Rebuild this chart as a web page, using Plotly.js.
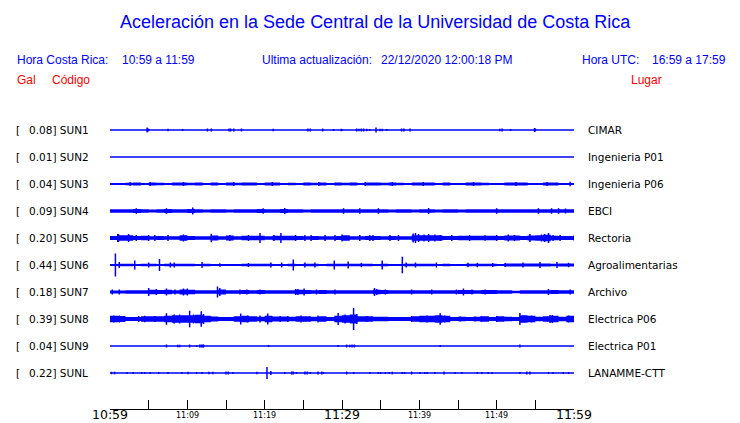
<!DOCTYPE html>
<html><head><meta charset="utf-8">
<script src="https://cdn.plot.ly/plotly-3.0.1.min.js"></script>
<style>html,body{margin:0;padding:0;background:#fff}#c{width:740px;height:423px}</style>
</head><body><div id="c"></div>
<script>
// ---------------- DATA ----------------
const codes = ["SUN1","SUN2","SUN3","SUN4","SUN5","SUN6","SUN7","SUN8","SUN9","SUNL"];
const peaks = ["0.08","0.01","0.04","0.09","0.20","0.44","0.18","0.39","0.04","0.22"];
const places = ["CIMAR","Ingenieria P01","Ingenieria P06","EBCI","Rectoria","Agroalimentarias","Archivo","Electrica P06","Electrica P01","LANAMME-CTT"];
const tickMinutes = [0,5,10,15,20,25,30,35,40,45,50,55,60];
const tickLabels = ["10:59","","11:09","","11:19","","11:29","","11:39","","11:49","","11:59"];
const bigTicks = ["10:59","11:29","11:59"];

// per-minute envelope half-widths (minutes 0..60) for the noisy stations
const envSUN3 = [1.0,1.0,1.3,1.4,1.1,1.4,1.2,1.0,1.4,1.4,1.3,1.4,1.0,1.4,1.0,1.4,1.3,1.4,1.4,1.1,1.4,1.4,1.1,1.3,1.1,1.4,1.2,1.4,1.1,1.4,1.3,1.4,1.1,1.4,1.4,1.2,1.4,1.3,1.0,1.4,1.4,1.4,1.1,1.4,1.0,1.0,1.4,1.4,1.3,1.1,1.1,1.4,1.4,1.4,1.1,1.1,1.4,1.4,1.1,1.1,1.4];
const envSUN4 = [1.8,1.8,1.8,2.0,1.8,1.6,1.8,2.0,1.8,1.8,2.0,1.8,1.6,1.8,1.8,1.6,1.8,1.8,1.8,2.0,1.8,1.8,2.0,1.8,1.8,1.6,1.8,1.8,1.8,1.8,1.8,1.8,1.8,1.8,1.8,1.8,1.6,1.8,1.8,1.6,1.8,1.8,1.6,1.8,1.8,1.6,1.8,1.8,1.8,1.8,1.8,1.8,1.8,1.8,1.8,1.8,1.8,1.8,1.8,1.8,1.8];
const envSUN5 = [2.0,2.8,2.8,2.0,2.3,1.8,2.0,1.8,1.8,2.8,2.0,1.8,1.8,2.6,1.8,2.6,1.8,2.3,2.3,2.3,1.8,2.3,2.3,2.3,2.0,1.8,2.0,1.8,1.8,2.0,2.8,1.8,1.8,2.0,2.0,1.8,2.0,1.8,1.8,2.8,2.8,2.8,2.8,2.0,2.0,2.3,2.3,2.3,2.3,2.3,2.0,2.6,2.6,2.0,2.6,2.8,3.2,2.3,2.0,2.0,2.3];
const envSUN6 = [1.0,1.3,1.3,0.9,1.3,1.3,1.0,1.3,1.3,1.3,1.3,1.0,1.3,1.0,0.9,1.0,1.0,1.3,1.3,1.3,1.2,1.0,1.0,1.3,1.0,1.3,1.3,1.0,1.3,1.3,1.3,1.3,1.3,1.3,1.0,1.3,1.0,1.0,1.3,1.3,1.3,1.3,1.0,1.3,1.0,1.0,1.3,1.3,1.3,1.3,1.0,1.6,1.6,1.6,1.6,1.6,1.6,1.3,1.6,1.6,1.6];
const envSUN7 = [1.5,1.5,1.8,1.8,1.8,2.2,2.0,2.2,1.8,2.5,2.2,1.8,1.8,1.8,2.5,1.8,1.8,2.0,1.8,2.0,1.8,1.8,1.8,1.8,2.2,2.0,1.8,2.0,1.8,1.8,1.8,1.8,1.8,1.8,2.2,2.0,1.8,1.8,1.8,1.8,1.8,1.8,1.8,1.8,1.8,2.0,2.0,1.8,2.0,2.0,1.8,1.8,1.3,1.8,1.8,1.8,1.8,2.0,1.8,1.8,1.8];
const envSUN8 = [3.3,3.0,2.0,2.0,2.8,2.8,2.8,3.3,3.8,3.8,3.8,4.2,3.3,2.6,2.0,2.0,2.8,3.3,2.8,2.3,3.3,2.6,2.6,2.3,2.8,2.8,2.3,2.8,2.0,3.3,3.8,4.5,2.8,2.8,2.3,2.3,2.0,2.0,2.0,2.8,3.3,3.3,3.8,3.3,2.0,2.3,2.0,2.3,2.8,2.0,2.8,2.3,2.0,3.8,3.3,2.3,2.8,3.3,2.3,3.3,3.3];

// spikes: [minute, half amplitude]
const spkSUN1 = [[4.8,2.4],[4.9,1.5],[5.0,1.2],[7.5,1.3],[9.4,1.0],[12.6,1.5],[13.1,1.5],[15.4,1.5],[15.6,1.5],[16.0,1.5],[17.0,1.5],[21.1,1.3],[25.6,1.5],[25.9,1.5],[27.5,1.5],[28.9,1.0],[29.9,1.2],[30.0,1.0],[31.9,1.5],[32.2,1.3],[32.5,1.5],[32.8,1.5],[33.2,1.3],[33.6,1.0],[34.4,2.5],[34.9,1.3],[35.2,1.3],[35.8,1.0],[37.7,1.5],[38.0,1.5],[38.8,1.5],[50.4,1.2],[50.7,1.5],[51.8,1.0],[54.9,2.0],[55.0,1.5]];
const spkSUN2 = [];
const spkSUN3 = [[2.6,2.0],[5.2,2.0],[9.5,2.0],[16.0,2.0],[21.0,2.0],[27.0,2.0],[33.0,2.0],[36.5,2.0],[40.5,2.0],[47.0,2.0],[52.5,2.0],[56.5,2.0],[59.5,2.2]];
const spkSUN4 = [[3.4,2.8],[7.3,2.8],[10.7,3.5],[19.8,2.8],[22.6,3.0],[30.2,2.8],[32.3,2.8],[34.7,2.8],[41.2,3.0],[50.0,2.8],[55.4,2.8],[57.1,2.8],[58.0,2.8],[58.9,2.5]];
const spkSUN5 = [[1.0,4],[1.1,4],[2.4,4],[3.4,3],[5.0,3],[5.8,3],[7.5,3],[9.5,3.5],[13.1,4.2],[15.5,3],[17.9,3],[19.4,5],[21.2,3],[22.1,5],[24,3],[25.2,3],[26,3],[27.8,3],[29.1,3],[30,3.5],[32.3,3],[33.6,3],[34,3],[36.2,3],[37.3,3],[39.2,4.5],[39.5,5],[39.9,4],[40.6,3.5],[41.2,4],[42,3.5],[42.7,3],[44.2,3],[46.5,3],[48.5,2.8],[50,3],[51.5,3.5],[52.3,3],[54.3,4],[55.8,3.5],[56.2,4],[56.7,5],[57.3,3],[58.2,3],[60,2.5]];
const spkSUN6 = [[0.7,11.5],[1.2,3],[3.2,4.5],[5,2.5],[6.4,6],[7.8,2.5],[8.3,2.5],[11.9,3],[14.2,1.8],[17.9,2],[20.8,2.5],[22.2,2.5],[23.7,5.5],[25.2,2.5],[26.5,2.5],[29.0,4.5],[30.8,3.5],[32.5,2.2],[35.2,4.5],[37.8,8.3],[38.3,2.5],[39.5,2.5],[42.2,2.5],[46.3,2.2],[47.5,2.2],[49.5,2],[51.1,2],[53.4,2.5],[55.6,3],[57.8,3],[59.3,2.2]];
const spkSUN7 = [[0.3,2.5],[1.2,2.5],[5.0,4],[6.0,3],[7.3,3.5],[8.4,2.5],[9.5,3.5],[10,3.5],[13.9,5.5],[14.2,4],[16.8,2.5],[17.7,2.5],[19.4,2.5],[24.0,3],[24.3,3],[25.1,3.5],[26.7,2.5],[29.1,2.5],[34.2,4],[34.5,3],[35.6,2.5],[39,2.5],[41.6,2.5],[44.8,2.5],[45.7,3.5],[46.8,2.5],[48.5,2.5],[56.7,3],[59.5,2.5]];
const spkSUN8 = [[0.5,3.5],[1.2,3.5],[3.7,3],[4.5,3.2],[5.8,3],[7.3,5.8],[8.3,4.5],[9,4.5],[10.3,8.3],[10.8,4.5],[11.8,7.7],[12.1,5],[13,2.8],[16.9,5.5],[17.8,3.5],[19.4,3.5],[20.4,5.5],[22,3],[23,3],[24.7,3.5],[26.9,3.5],[29.5,6],[30.4,4.5],[31.5,11],[31.9,5],[33.2,3],[39,3],[41,3.5],[42.7,5.8],[43.3,3.5],[45.3,2.5],[47.2,2.5],[48,3],[50,3],[53,6],[53.5,3.5],[54.5,3.5],[56.9,4],[57.2,4],[59.3,3.5]];
const spkSUN9 = [[7.3,1.5],[8.75,1.3],[9.0,1.3],[10.3,1.5],[11.2,1.0],[11.6,1.5],[11.8,1.5],[12.0,1.5],[12.1,1.5],[20.5,1.0],[29.5,1.0],[30.6,1.5],[31.0,1.3],[31.3,1.5],[31.6,1.5],[42.7,1.0],[53.0,1.5]];
const spkSUNL = [[0.2,1.3],[0.6,1.3],[2.2,1.0],[3.0,1.0],[4.1,1.0],[4.5,1.0],[5.2,1.0],[6.3,1.0],[7.5,1.0],[9.3,1.0],[10.1,1.3],[11.2,1.0],[11.9,1.0],[12.8,1.3],[13.3,1.3],[15.0,1.5],[15.3,1.5],[15.9,1.0],[19.0,1.3],[20.3,6.0],[20.8,2.0],[22.6,1.0],[23.5,1.5],[23.7,1.5],[24.1,1.0],[25.2,1.5],[25.5,1.5],[25.9,1.0],[26.9,1.5],[27.4,1.5],[27.6,1.0],[30.6,1.5],[31.5,1.0],[33.6,1.0],[34.7,1.0],[35.0,1.0],[35.6,1.0],[36.1,1.0],[36.5,1.3],[37.8,1.0],[38.1,1.0],[39.0,1.5],[40.1,1.0],[40.7,1.0],[41.0,1.0],[42.0,1.0],[43.2,1.5],[44.6,1.0],[45.5,1.0],[47.5,1.0],[48.1,1.0],[48.9,1.0],[49.4,1.0],[53.0,1.0],[53.9,1.5],[54.3,1.5],[56.7,1.0],[57.3,1.0],[58.6,1.0],[59.3,1.0]];

const envs = [null,null,envSUN3,envSUN4,envSUN5,envSUN6,envSUN7,envSUN8,null,null];
const spikes = [spkSUN1,spkSUN2,spkSUN3,spkSUN4,spkSUN5,spkSUN6,spkSUN7,spkSUN8,spkSUN9,spkSUNL];
const envMinutes = Array.from({length:61},(_,i)=>i);

// ---------------- LAYOUT HELPERS ----------------
const BLUE = "#0000ff", RED = "#ff0000";
const L = 110, R = 574, T = 115, B = 409;
const px = x => (x - L) / (R - L);
const py = y => (B - y) / (B - T);
const rowCenter = i => 279 - 27 * i;   // data units (1 unit = 1 px)

const traces = [];
codes.forEach((code, i) => {
  const c = rowCenter(i);
  traces.push({x:[0,60], y:[c,c], mode:"lines", line:{color:BLUE,width:1.3}, hoverinfo:"skip", showlegend:false});
  const env = envs[i];
  if (env) {
    traces.push({x:envMinutes, y:env.map(v=>c-v), mode:"lines", line:{color:BLUE,width:0,shape:"hv"}, hoverinfo:"skip", showlegend:false});
    traces.push({x:envMinutes, y:env.map(v=>c+v), mode:"lines", line:{color:BLUE,width:0,shape:"hv"}, fill:"tonexty", fillcolor:BLUE, hoverinfo:"skip", showlegend:false});
  }
  const sx = [], sy = [];
  spikes[i].forEach(([t,a]) => { sx.push(t,t,null); sy.push(c-a,c+a,null); });
  if (sx.length) traces.push({x:sx, y:sy, mode:"lines", line:{color:BLUE,width:1.5}, hoverinfo:"skip", showlegend:false, connectgaps:false});
});

const ann = [];
const lab = "DejaVu Sans";
codes.forEach((code, i) => {
  const yc = py(130 + 27 * i);
  ann.push({xref:"paper", yref:"paper", x:px(14), y:yc, xanchor:"left", yanchor:"middle", text:"[", showarrow:false, font:{family:lab,size:10.5,color:"#000"}});
  ann.push({xref:"paper", yref:"paper", x:px(27), y:yc, xanchor:"left", yanchor:"middle", text:peaks[i]+"] "+code, showarrow:false, font:{family:lab,size:10.5,color:"#000"}});
  ann.push({xref:"paper", yref:"paper", x:px(586), y:yc, xanchor:"left", yanchor:"middle", text:places[i], showarrow:false, font:{family:lab,size:10.5,color:"#000"}});
});
tickMinutes.forEach((m, k) => {
  const t = tickLabels[k];
  if (!t) return;
  const big = bigTicks.includes(t);
  ann.push({xref:"x", yref:"paper", x:m, y:py(big?414.5:415), xanchor:"center", yanchor:"middle", text:t, showarrow:false, borderpad:0, font:{family:lab,size:big?12.5:8,color:"#000"}});
});
const hf = "Liberation Sans";
const head = [
  ["Aceleración en la Sede Central de la Universidad de Costa Rica", 375, 22, 18, BLUE, "center"],
  ["Hora Costa Rica:", 15, 60, 12, BLUE, "left"],
  ["10:59 a 11:59", 120, 60, 12, BLUE, "left"],
  ["Ultima actualización:", 260, 60, 12, BLUE, "left"],
  ["22/12/2020 12:00:18 PM", 379, 60, 12, BLUE, "left"],
  ["Hora UTC:", 580, 60, 12, BLUE, "left"],
  ["16:59 a 17:59", 650, 60, 12, BLUE, "left"],
  ["Gal", 15, 80, 12, RED, "left"],
  ["Código", 50, 80, 12, RED, "left"],
  ["Lugar", 629, 80, 12, RED, "left"]
];
head.forEach(([text,x,y,s,col,anch]) => ann.push({xref:"paper", yref:"paper", x:px(x), y:py(y), xanchor:anch, yanchor:"middle", text, showarrow:false, font:{family:hf,size:s,color:col}}));

const layout = {
  width:740, height:423,
  margin:{l:L, r:740-R, t:T, b:423-B, pad:0},
  paper_bgcolor:"#fff", plot_bgcolor:"#fff",
  showlegend:false,
  xaxis:{range:[0,60], tickvals:tickMinutes, ticks:"inside", ticklen:9, tickwidth:1, tickcolor:"#000", showticklabels:false, showgrid:false, zeroline:false, showline:true, linecolor:"#000", linewidth:1, fixedrange:true},
  yaxis:{range:[0,B-T], visible:false, showgrid:false, zeroline:false, fixedrange:true},
  annotations:ann
};
Plotly.newPlot("c", traces, layout, {staticPlot:true, displayModeBar:false});
</script></body></html>
